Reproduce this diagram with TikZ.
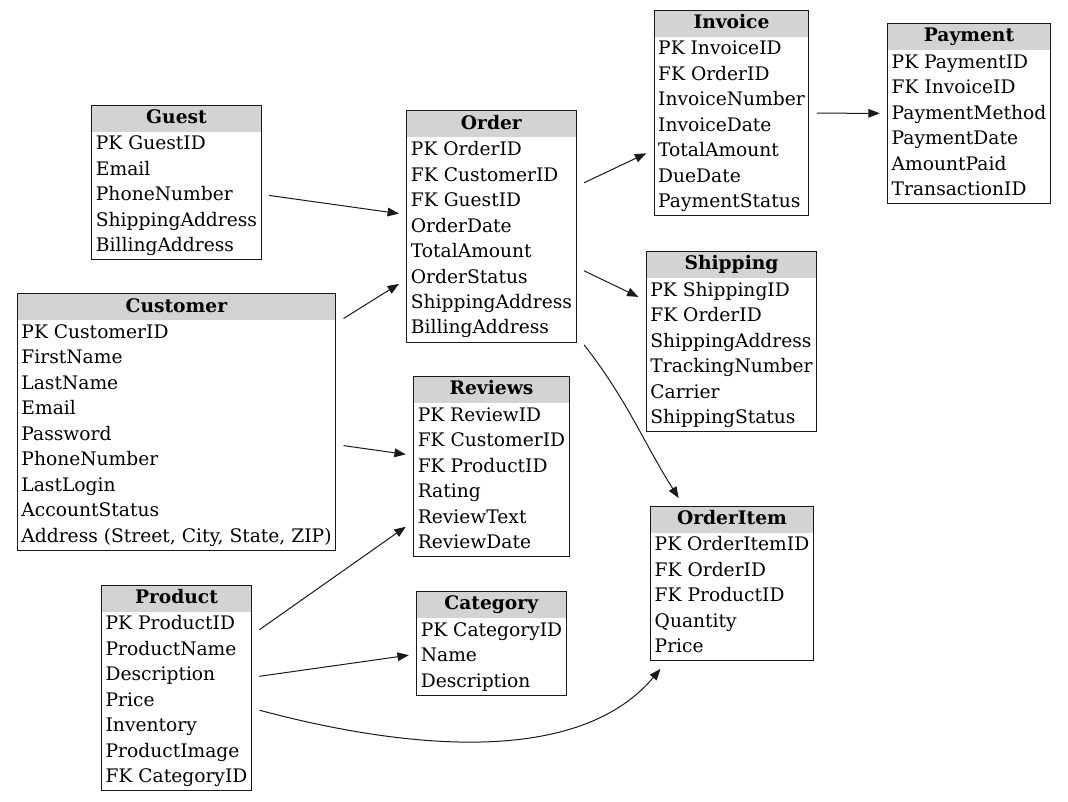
\documentclass[tikz,border=0pt]{standalone}
\usepackage{fontspec}
\setmainfont{DejaVu Serif}
\usepackage{tikz}
\usetikzlibrary{arrows.meta, shapes.multipart}
\definecolor{headGray}{HTML}{D3D3D3}
\definecolor{mainBlack}{gray}{0.1}

\begin{document}
\begin{tikzpicture}[x=0.75pt, y=0.75pt, >={Triangle[length=8.5pt, width=6.5pt]},
    entity/.style={rectangle split, rectangle split parts=2, rectangle split draw splits=false,
        rectangle split part fill={headGray, white}, draw=mainBlack, line width=0.75pt,
        inner xsep=3pt, inner ysep=0pt, outer sep=6pt, font=\fontsize{14}{19.1}\selectfont},
    link/.style={->, line width=0.75pt, mainBlack}]
    \useasboundingbox (0,0) rectangle (1068,-801);

    % Tables
    \node[entity] (guest) at (176.5,-182.5) {\strut\textbf{Guest}\nodepart{two}\begin{tabular}{@{}l@{}}
        PK GuestID\\ Email\\ PhoneNumber\\ ShippingAddress\\ BillingAddress\end{tabular}};
    \node[entity] (customer) at (176.5,-422) {\strut\textbf{Customer}\nodepart{two}\begin{tabular}{@{}l@{}}
        PK CustomerID\\ FirstName\\ LastName\\ Email\\ Password\\ PhoneNumber\\ LastLogin\\ AccountStatus\\ Address (Street, City, State, ZIP)\end{tabular}};
    \node[entity] (product) at (176.5,-688) {\strut\textbf{Product}\nodepart{two}\begin{tabular}{@{}l@{}}
        PK ProductID\\ ProductName\\ Description\\ Price\\ Inventory\\ ProductImage\\ FK CategoryID\end{tabular}};
    \node[entity] (order) at (491.5,-226.5) {\strut\textbf{Order}\nodepart{two}\begin{tabular}{@{}l@{}}
        PK OrderID\\ FK CustomerID\\ FK GuestID\\ OrderDate\\ TotalAmount\\ OrderStatus\\ ShippingAddress\\ BillingAddress\end{tabular}};
    \node[entity] (reviews) at (491.5,-466.5) {\strut\textbf{Reviews}\nodepart{two}\begin{tabular}{@{}l@{}}
        PK ReviewID\\ FK CustomerID\\ FK ProductID\\ Rating\\ ReviewText\\ ReviewDate\end{tabular}};
    \node[entity] (category) at (491.5,-643.5) {\strut\textbf{Category}\nodepart{two}\begin{tabular}{@{}l@{}}
        PK CategoryID\\ Name\\ Description\end{tabular}};
    \node[entity] (invoice) at (731.5,-113) {\strut\textbf{Invoice}\nodepart{two}\begin{tabular}{@{}l@{}}
        PK InvoiceID\\ FK OrderID\\ InvoiceNumber\\ InvoiceDate\\ TotalAmount\\ DueDate\\ PaymentStatus\end{tabular}};
    \node[entity] (shipping) at (731.5,-341.5) {\strut\textbf{Shipping}\nodepart{two}\begin{tabular}{@{}l@{}}
        PK ShippingID\\ FK OrderID\\ ShippingAddress\\ TrackingNumber\\ Carrier\\ ShippingStatus\end{tabular}};
    \node[entity] (orderitem) at (732,-583.5) {\strut\textbf{OrderItem}\nodepart{two}\begin{tabular}{@{}l@{}}
        PK OrderItemID\\ FK OrderID\\ FK ProductID\\ Quantity\\ Price\end{tabular}};
    \node[entity] (payment) at (969,-113.5) {\strut\textbf{Payment}\nodepart{two}\begin{tabular}{@{}l@{}}
        PK PaymentID\\ FK InvoiceID\\ PaymentMethod\\ PaymentDate\\ AmountPaid\\ TransactionID\end{tabular}};

    % Relations
    \draw[link] (guest) -- (order);
    \draw[link] (customer) -- (order);
    \draw[link] (customer) -- (reviews);
    \draw[link] (product) -- (reviews);
    \draw[link] (product) -- (category);
    \draw[link] (product) to[out=-15, in=-130, looseness=0.85] (orderitem);
    \draw[link] (order) -- (invoice);
    \draw[link] (order) -- (shipping);
    \draw[link] (order) to[out=-52, in=122] (orderitem);
    \draw[link] (invoice) -- (payment);
\end{tikzpicture}
\end{document}
